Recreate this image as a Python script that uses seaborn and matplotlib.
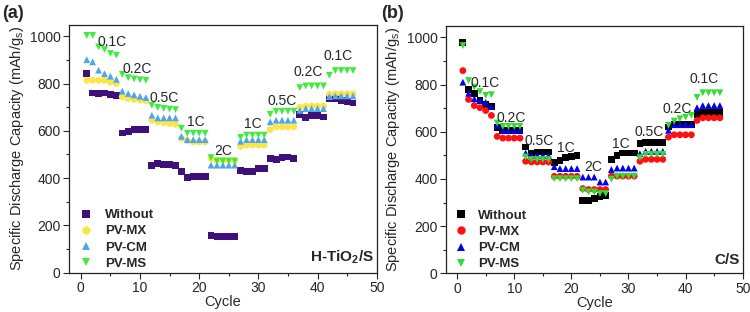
import numpy as np
import pandas as pd
import seaborn as sns
import matplotlib.pyplot as plt
from matplotlib.ticker import MultipleLocator

sns.set_style("ticks")
plt.rcParams['font.family'] = ['Liberation Sans', 'DejaVu Sans']
plt.rcParams['mathtext.fontset'] = 'custom'
plt.rcParams['mathtext.rm'] = 'Liberation Sans'
plt.rcParams['mathtext.bf'] = 'Liberation Sans:bold'

cycles = list(range(1, 47))
samples = ['Without', 'PV-MX', 'PV-CM', 'PV-MS']
markers = {'Without': 's', 'PV-MX': 'o', 'PV-CM': '^', 'PV-MS': 'v'}

# (a) H-TiO2/S
a_without = [842, 760, 757, 760, 754, 750,
             591, 598, 606, 606, 606,
             455, 462, 459, 457, 455,
             427, 403, 406, 406, 406,
             158, 152, 152, 152, 152,
             434, 427, 427, 441, 441,
             483, 480, 486, 489, 484,
             669, 655, 666, 666, 659,
             737, 737, 730, 725, 718]
a_mx = [814, 814, 814, 814, 806, 800,
        744, 737, 733, 730, 727,
        645, 638, 634, 631, 628,
        568, 558, 553, 553, 553,
        483, 476, 476, 476, 476,
        535, 540, 540, 540, 540,
        606, 617, 617, 617, 617,
        700, 705, 705, 705, 705,
        755, 757, 757, 757, 757]
a_cm = [901, 892, 857, 842, 831, 818,
        768, 758, 752, 746, 741,
        666, 655, 655, 655, 655,
        577, 563, 563, 563, 563,
        455, 455, 455, 455, 455,
        556, 563, 563, 563, 563,
        638, 645, 645, 645, 645,
        687, 694, 694, 694, 694,
        745, 748, 748, 748, 748]
a_ms = [1004, 1004, 955, 944, 927, 920,
        839, 825, 820, 816, 814,
        708, 699, 695, 692, 690,
        611, 590, 590, 590, 590,
        487, 472, 472, 472, 472,
        572, 582, 582, 582, 582,
        670, 683, 683, 683, 683,
        783, 790, 790, 790, 790,
        835, 855, 855, 855, 855]

# (b) C/S
b_without = [979, 778, 761, 733, 716, 707,
             617, 606, 606, 606, 606,
             535, 507, 514, 514, 514,
             468, 479, 490, 496, 500,
             310, 310, 317, 324, 331,
             482, 500, 510, 510, 510,
             549, 556, 556, 556, 556,
             620, 631, 631, 631, 631,
             673, 683, 683, 683, 683]
b_mx = [859, 737, 711, 702, 690, 669,
        580, 573, 573, 573, 573,
        475, 472, 472, 472, 472,
        411, 411, 411, 411, 411,
        359, 355, 355, 355, 355,
        412, 412, 412, 412, 412,
        475, 483, 483, 483, 483,
        577, 587, 587, 587, 587,
        648, 659, 659, 659, 659]
b_cm = [810, 763, 740, 733, 725, 707,
        627, 606, 606, 606, 606,
        510, 500, 500, 500, 500,
        452, 444, 444, 444, 444,
        408, 408, 408, 387, 387,
        440, 446, 446, 446, 446,
        507, 517, 517, 517, 517,
        606, 630, 630, 630, 630,
        702, 711, 711, 711, 711]
b_ms = [965, 817, 789, 770, 754, 757,
        637, 623, 623, 623, 623,
        493, 482, 482, 482, 482,
        401, 401, 401, 401, 401,
        352, 345, 345, 338, 338,
        399, 411, 411, 411, 411,
        490, 504, 504, 504, 504,
        627, 645, 655, 662, 669,
        745, 765, 765, 765, 765]

rate_labels = ['0.1C', '0.2C', '0.5C', '1C', '2C', '1C', '0.5C', '0.2C', '0.1C']
a_label_x = [5.3, 9.5, 14.1, 19.5, 24.0, 29.0, 34.0, 38.5, 43.5]
a_label_y = [975, 860, 740, 637, 514, 628, 727, 850, 915]
b_label_x = [4.85, 9.4, 14.3, 19.1, 23.9, 28.6, 33.6, 38.6, 43.3]
b_label_y = [806, 660, 561, 530, 449, 546, 597, 697, 825]

pal_a = {'Without': '#3F0F7A', 'PV-MX': '#FBE64A', 'PV-CM': '#4FA6EE', 'PV-MS': '#3EEB3E'}
pal_b = {'Without': '#000000', 'PV-MX': '#FF1010', 'PV-CM': '#0000F0', 'PV-MS': '#33DD33'}


def long_df(series):
    parts = []
    for name, vals in zip(samples, series):
        parts.append(pd.DataFrame({'Cycle': cycles, 'Capacity': vals, 'Sample': name}))
    return pd.concat(parts, ignore_index=True)


fig = plt.figure(figsize=(7.5, 3.12), dpi=100)
ax1 = fig.add_axes([0.092, 0.126, 0.4103, 0.794])
ax2 = fig.add_axes([0.5943, 0.124, 0.396, 0.7926])

# axes, data, palette, label positions, tag, legend x, handle-text pad
panels = [
    (ax1, long_df([a_without, a_mx, a_cm, a_ms]), pal_a, a_label_x, a_label_y,
     'H-TiO$_\\mathbf{2}$/S', 0.034, 0.94),
    (ax2, long_df([b_without, b_mx, b_cm, b_ms]), pal_b, b_label_x, b_label_y,
     'C/S', 0.028, 0.81),
]

for ax, df, pal, lx, ly, tag, legx, tpad in panels:
    sns.scatterplot(data=df, x='Cycle', y='Capacity', hue='Sample', style='Sample',
                    palette=pal, markers=markers, s=24, linewidth=0, ax=ax, legend=False)
    for t, x, y in zip(rate_labels, lx, ly):
        ax.text(x, y, t, fontsize=10, ha='center', va='center')
    ax.set_xlim(-2, 50)
    ax.set_ylim(0, 1048)
    ax.xaxis.set_major_locator(MultipleLocator(10))
    ax.xaxis.set_minor_locator(MultipleLocator(5))
    ax.yaxis.set_major_locator(MultipleLocator(200))
    ax.yaxis.set_minor_locator(MultipleLocator(100))
    ax.tick_params(which='major', length=4, width=0.8, labelsize=10, pad=2)
    ax.tick_params(which='minor', length=2.5, width=0.8)
    for sp in ax.spines.values():
        sp.set_visible(True)
        sp.set_linewidth(0.9)
        sp.set_color('#222222')
    ax.set_xlabel('Cycle', fontsize=10.5, labelpad=0)
    ax.set_ylabel('Specific Discharge Capacity (mAh/g$_\\mathrm{s}$)', fontsize=10.5, labelpad=3)
    ax.text(0.99, 0.025, tag, transform=ax.transAxes, ha='right', va='bottom',
            fontsize=11, fontweight='bold')
    handles = [plt.Line2D([], [], ls='', marker=markers[n], color=pal[n], markersize=6,
                          markeredgewidth=0) for n in samples]
    ax.legend(handles, samples, loc='lower left', frameon=False,
              prop={'weight': 'bold', 'size': 9.5}, handlelength=1.0,
              handletextpad=tpad, labelspacing=0.3, borderpad=0,
              borderaxespad=0, bbox_to_anchor=(legx, 0.012))

fig.text(0.003, 0.985, '(a)', fontsize=13, fontweight='bold', ha='left', va='top')
fig.text(0.508, 0.985, '(b)', fontsize=13, fontweight='bold', ha='left', va='top')

fig.savefig('out.png', dpi=100)
